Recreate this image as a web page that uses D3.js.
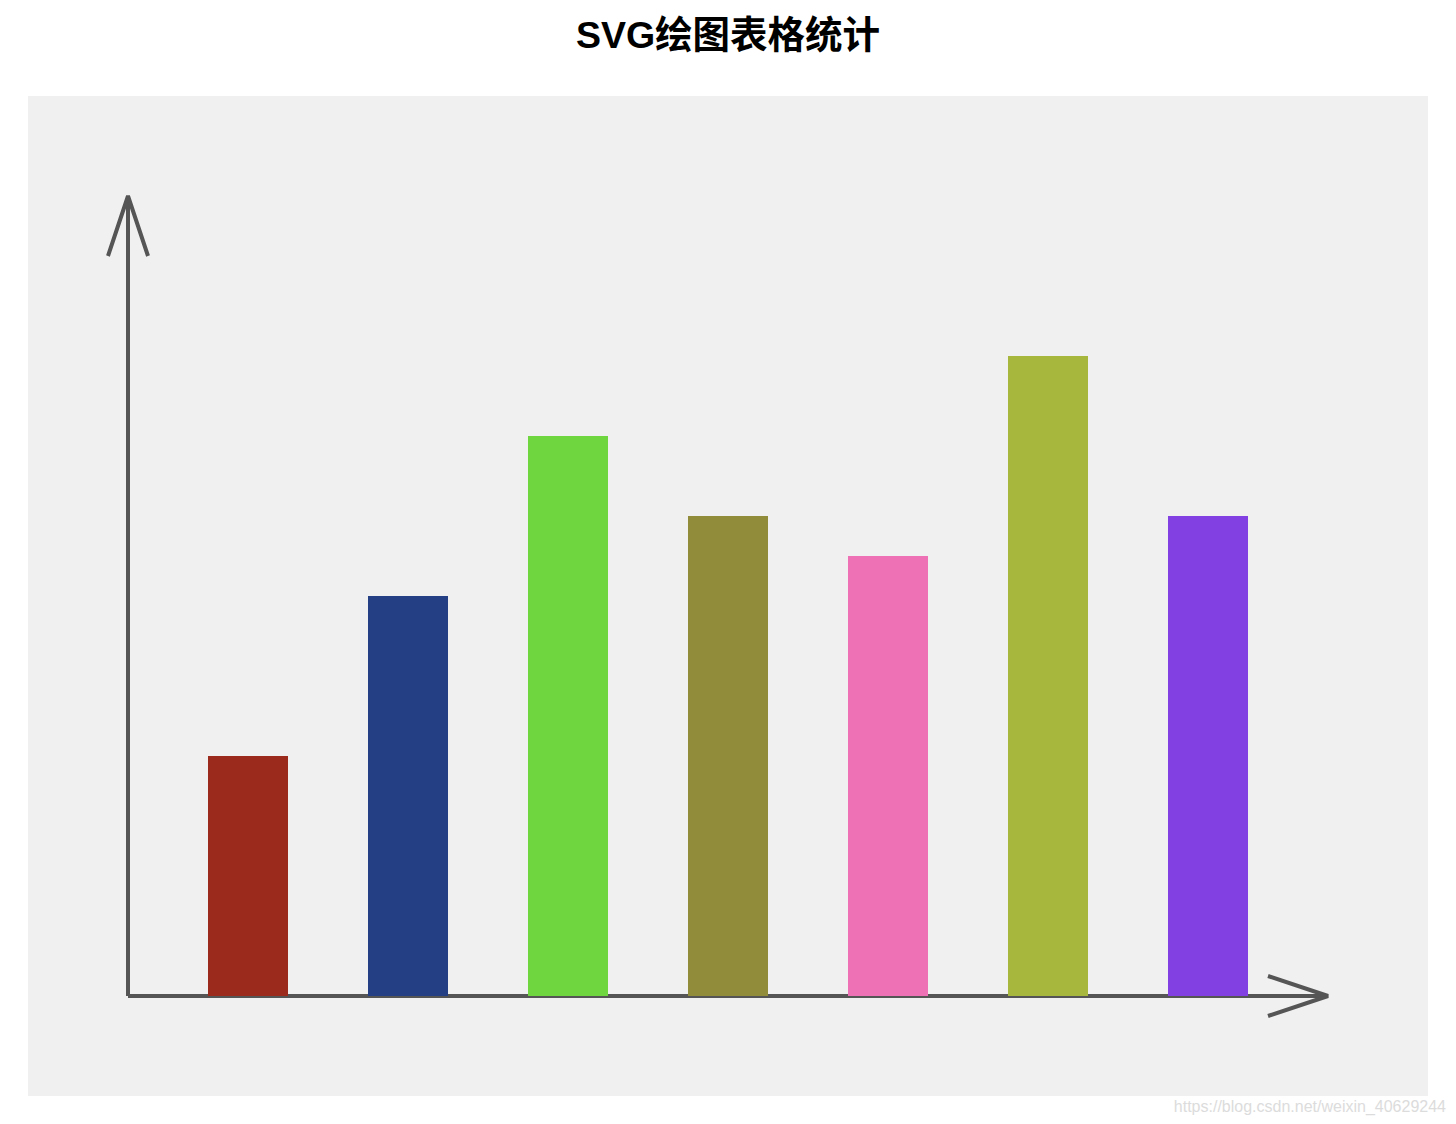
<!DOCTYPE html>
<html>
<head>
<meta charset="utf-8">
<script src="https://cdn.jsdelivr.net/npm/d3@7"></script>
<style>
  body { margin: 0; background: #fff; }
</style>
</head>
<body>
<svg id="chart" width="1456" height="1124"></svg>
<script>
// bar values
const categories = ["A", "B", "C", "D", "E", "F", "G"];
const values = [30, 50, 70, 60, 55, 80, 60];
const colors = ["#9b2a1c", "#243f84", "#70d640", "#918c3a", "#ee70b5", "#a7b73e", "#823fe2"];

const svg = d3.select("#chart");

svg.append("text")
   .attr("x", 728)
   .attr("y", 48)
   .attr("text-anchor", "middle")
   .attr("font-family", "'Liberation Sans', Arial, 'Noto Sans CJK SC', sans-serif")
   .attr("font-weight", "bold")
   .attr("font-size", 37.5)
   .attr("fill", "#000")
   .text("SVG绘图表格统计");

svg.append("rect")
   .attr("x", 28).attr("y", 96)
   .attr("width", 1400).attr("height", 1000)
   .attr("fill", "#f0f0f0");

const x0 = 128, y0 = 996;

const xScale = d3.scaleBand()
                 .domain(categories)
                 .range([168, 1288])
                 .paddingInner(0.5)
                 .paddingOuter(0.25);

const yScale = d3.scaleLinear()
                 .domain([0, 100])
                 .range([y0, 196]);

const axisColor = "#555";
const axes = svg.append("g")
                .attr("stroke", axisColor)
                .attr("stroke-width", 4)
                .attr("stroke-linejoin", "bevel")
                .attr("fill", "none");

// y axis with open arrow
axes.append("line").attr("x1", x0).attr("y1", y0).attr("x2", x0).attr("y2", yScale(100));
axes.append("polyline").attr("points", [[x0 - 20, 256], [x0, 196], [x0 + 20, 256]].join(" "));

// x axis with open arrow
axes.append("line").attr("x1", x0).attr("y1", y0).attr("x2", 1328).attr("y2", y0);
axes.append("polyline").attr("points", [[1268, y0 - 20], [1328, y0], [1268, y0 + 20]].join(" "));

svg.append("g")
   .selectAll("rect")
   .data(values)
   .enter()
   .append("rect")
   .attr("x", (d, i) => xScale(categories[i]))
   .attr("y", d => yScale(d))
   .attr("width", xScale.bandwidth())
   .attr("height", d => y0 - yScale(d))
   .attr("fill", (d, i) => colors[i]);

svg.append("text")
   .attr("x", 1446)
   .attr("y", 1112)
   .attr("text-anchor", "end")
   .attr("font-family", "'Liberation Sans', Arial, sans-serif")
   .attr("font-size", 16)
   .attr("fill", "#dcdcdc")
   .text("https://blog.csdn.net/weixin_40629244");
</script>
</body>
</html>
